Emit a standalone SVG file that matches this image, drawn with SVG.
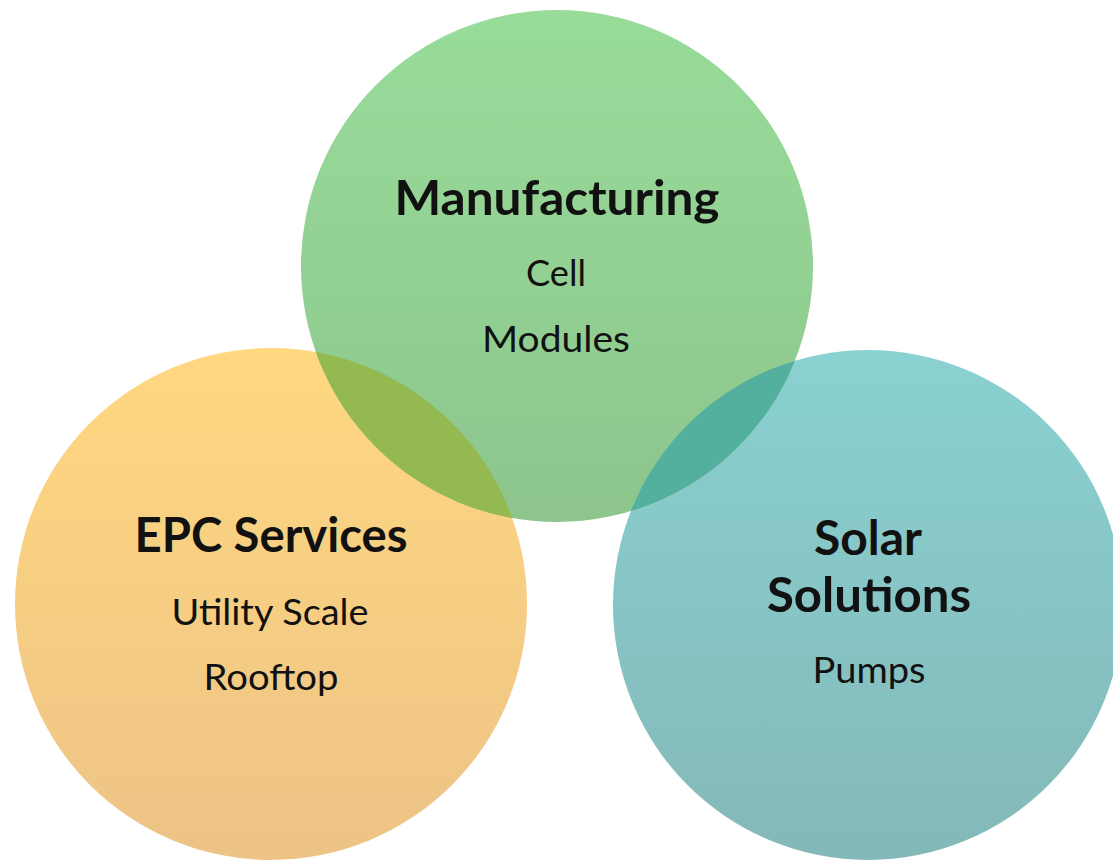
<svg xmlns="http://www.w3.org/2000/svg" width="1113" height="861" viewBox="0 0 1113 861">
  <defs>
    <linearGradient id="gGreen" x1="0" y1="0" x2="0" y2="1">
      <stop offset="0" stop-color="#98DC99"/>
      <stop offset="1" stop-color="#8DC58D"/>
    </linearGradient>
    <linearGradient id="gOrange" x1="0" y1="0" x2="0" y2="1">
      <stop offset="0" stop-color="#FFD880"/>
      <stop offset="1" stop-color="#EDC386"/>
    </linearGradient>
    <linearGradient id="gTeal" x1="0" y1="0" x2="0" y2="1">
      <stop offset="0" stop-color="#8AD1D2"/>
      <stop offset="1" stop-color="#84B8B8"/>
    </linearGradient>
    <clipPath id="clipOrange"><circle cx="271" cy="604" r="256"/></clipPath>
    <clipPath id="clipTeal"><circle cx="868" cy="605" r="255"/></clipPath>
  </defs>
  <style>
    .title { font-family: Lato, "Open Sans", "Liberation Sans", sans-serif; font-weight: bold; font-size: 47px; fill: #111; text-anchor: middle; }
    .item { font-family: Lato, "Open Sans", "Liberation Sans", sans-serif; font-size: 37px; fill: #111; text-anchor: middle; }
  </style>
  <rect width="1113" height="861" fill="#FFFFFF"/>
  <g id="epc-services">
    <circle cx="271" cy="604" r="256" fill="url(#gOrange)"/>
  </g>
  <g id="solar-solutions">
    <circle cx="868" cy="605" r="255" fill="url(#gTeal)"/>
  </g>
  <g id="manufacturing">
    <circle cx="557" cy="266" r="256" fill="url(#gGreen)"/>
  </g>
  <g id="overlaps">
    <circle cx="557" cy="266" r="256" fill="#93B950" clip-path="url(#clipOrange)"/>
    <circle cx="557" cy="266" r="256" fill="#53B09E" clip-path="url(#clipTeal)"/>
  </g>
  <g id="labels">
    <text class="title" x="557" y="215" textLength="325" lengthAdjust="spacingAndGlyphs">Manufacturing</text>
    <text class="item" x="556" y="286" textLength="60" lengthAdjust="spacingAndGlyphs">Cell</text>
    <text class="item" x="556" y="352" textLength="148" lengthAdjust="spacingAndGlyphs">Modules</text>
    <text class="title" x="271" y="552" textLength="273" lengthAdjust="spacingAndGlyphs">EPC Services</text>
    <text class="item" x="270" y="625" textLength="197" lengthAdjust="spacingAndGlyphs">Utility Scale</text>
    <text class="item" x="271" y="690" textLength="135" lengthAdjust="spacingAndGlyphs">Rooftop</text>
    <text class="title" x="868" y="555" textLength="108" lengthAdjust="spacingAndGlyphs">Solar</text>
    <text class="title" x="869" y="612" textLength="204" lengthAdjust="spacingAndGlyphs">Solutions</text>
    <text class="item" x="869" y="683" textLength="113" lengthAdjust="spacingAndGlyphs">Pumps</text>
  </g>
</svg>
